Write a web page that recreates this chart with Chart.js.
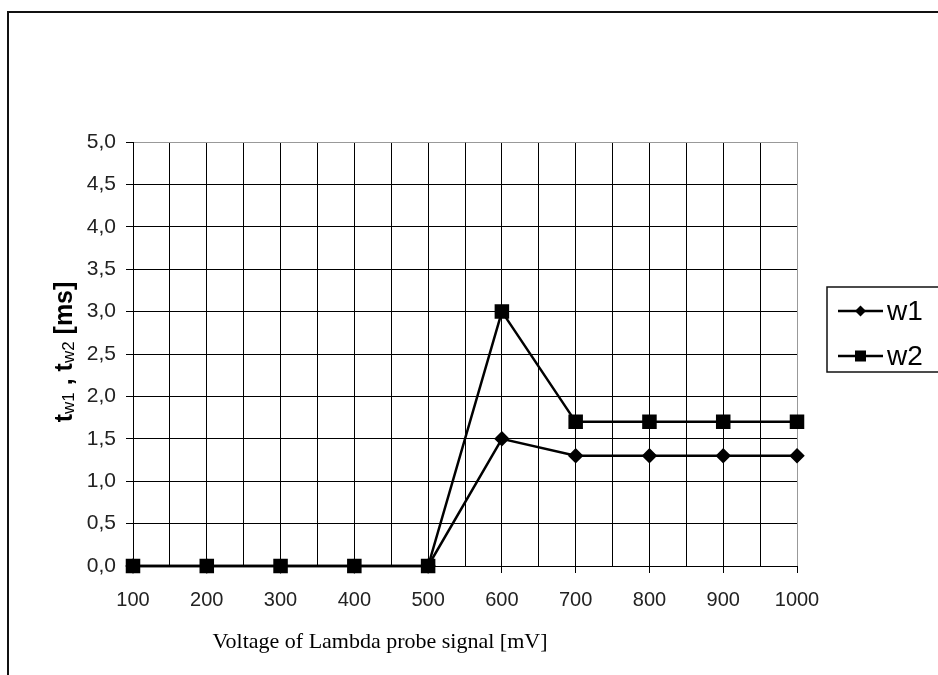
<!DOCTYPE html>
<html>
<head>
<meta charset="utf-8">
<script src="https://cdn.jsdelivr.net/npm/chart.js@4"></script>
<style>
html,body{margin:0;padding:0;background:#fff;}
#wrap{position:relative;width:938px;height:675px;}
</style>
</head>
<body>
<div id="wrap"><canvas id="c" width="938" height="675"></canvas></div>
<script>
const categories = [100, 200, 300, 400, 500, 600, 700, 800, 900, 1000];
const w1 = [0, 0, 0, 0, 0, 1.5, 1.3, 1.3, 1.3, 1.3];
const w2 = [0, 0, 0, 0, 0, 3.0, 1.7, 1.7, 1.7, 1.7];
const seriesNames = ['w1', 'w2'];
const xTitle = 'Voltage of Lambda probe signal [mV]';

const toPts = arr => categories.map((c, i) => ({x: c, y: arr[i]}));

const decor = {
  id: 'decor',
  afterDraw(chart) {
    const ctx = chart.ctx;
    ctx.save();
    // outer frame
    ctx.strokeStyle = '#111';
    ctx.lineWidth = 2;
    ctx.beginPath();
    ctx.moveTo(8, 675);
    ctx.lineTo(8, 12);
    ctx.lineTo(938, 12);
    ctx.stroke();

    // x title
    ctx.fillStyle = '#000';
    ctx.font = '22px "Liberation Serif", "Times New Roman", serif';
    ctx.textAlign = 'center';
    ctx.textBaseline = 'alphabetic';
    ctx.fillText(xTitle, 380, 648);

    // y title with subscripts (rotated)
    ctx.save();
    ctx.translate(64, 352);
    ctx.rotate(-Math.PI / 2);
    const parts = [
      {t: 't', f: 'bold 25px "Liberation Sans", Arial, sans-serif', dy: 0},
      {t: 'w1', f: '17px "Liberation Sans", Arial, sans-serif', dy: 2},
      {t: ' , ', f: 'bold 25px "Liberation Sans", Arial, sans-serif', dy: 0},
      {t: 't', f: 'bold 25px "Liberation Sans", Arial, sans-serif', dy: 0},
      {t: 'w2', f: '17px "Liberation Sans", Arial, sans-serif', dy: 2},
      {t: ' [ms]', f: 'bold 25px "Liberation Sans", Arial, sans-serif', dy: 0}
    ];
    let total = 0;
    parts.forEach(p => { ctx.font = p.f; p.w = ctx.measureText(p.t).width; total += p.w; });
    let x = -total / 2;
    ctx.textAlign = 'left';
    ctx.textBaseline = 'alphabetic';
    parts.forEach(p => { ctx.font = p.f; ctx.fillText(p.t, x, 8 + p.dy); x += p.w; });
    ctx.restore();

    // legend
    ctx.fillStyle = '#fff';
    ctx.fillRect(827, 287, 120, 85);
    ctx.strokeStyle = '#111';
    ctx.lineWidth = 1.5;
    ctx.strokeRect(827, 287, 130, 85);
    const rows = [311, 356];
    chart.data.datasets.forEach((ds, i) => {
      const y = rows[i];
      ctx.strokeStyle = '#000';
      ctx.lineWidth = 2.5;
      ctx.beginPath();
      ctx.moveTo(838, y);
      ctx.lineTo(883, y);
      ctx.stroke();
      ctx.fillStyle = '#000';
      if (ds.pointStyle === 'rect') {
        ctx.fillRect(855, y - 5.5, 11, 11);
      } else {
        ctx.beginPath();
        ctx.moveTo(860.5, y - 5.5);
        ctx.lineTo(866, y);
        ctx.lineTo(860.5, y + 5.5);
        ctx.lineTo(855, y);
        ctx.closePath();
        ctx.fill();
      }
      ctx.font = '28px "Liberation Sans", Arial, sans-serif';
      ctx.textAlign = 'left';
      ctx.textBaseline = 'middle';
      ctx.fillText(ds.label, 887, y + 1);
    });
    ctx.restore();
  }
};

new Chart(document.getElementById('c'), {
  type: 'line',
  data: {
    datasets: [
      {label: seriesNames[0], data: toPts(w1), borderColor: '#000', backgroundColor: '#000', borderWidth: 2.5,
       pointStyle: 'rectRot', pointRadius: 6, pointHoverRadius: 6, tension: 0, clip: false},
      {label: seriesNames[1], data: toPts(w2), borderColor: '#000', backgroundColor: '#000', borderWidth: 2.5,
       pointStyle: 'rect', pointRadius: 8.5, pointHoverRadius: 8.5, tension: 0, clip: false}
    ]
  },
  options: {
    responsive: false,
    animation: false,
    events: [],
    layout: {padding: {left: 0, top: 142, right: 141, bottom: 0}},
    plugins: {legend: {display: false}, tooltip: {enabled: false}},
    scales: {
      x: {
        type: 'linear',
        min: 100, max: 1000,
        afterFit: s => { s.height = 109; },
        border: {display: true, color: '#000', width: 1},
        grid: {
          color: c => (c.tick && c.tick.value === 1000) ? '#999' : '#000',
          lineWidth: 1,
          drawTicks: true,
          tickLength: 7,
          tickColor: c => (c.tick && c.tick.value % 100 === 0) ? '#000' : 'rgba(0,0,0,0)'
        },
        ticks: {
          stepSize: 50,
          autoSkip: false,
          maxRotation: 0,
          padding: 15,
          color: '#222',
          font: {family: '"Liberation Sans", Arial, sans-serif', size: 20},
          callback: v => (v % 100 === 0) ? String(v) : ''
        }
      },
      y: {
        min: 0, max: 5,
        afterFit: s => { s.width = 133; },
        border: {display: true, color: '#000', width: 1},
        grid: {
          color: c => (c.tick && c.tick.value === 5) ? '#999' : '#000',
          lineWidth: 1,
          drawTicks: true,
          tickLength: 7,
          tickColor: '#000'
        },
        ticks: {
          stepSize: 0.5,
          padding: 10,
          color: '#222',
          font: {family: '"Liberation Sans", Arial, sans-serif', size: 21},
          callback: v => v.toFixed(1).replace('.', ',')
        }
      }
    }
  },
  plugins: [decor]
});
</script>
</body>
</html>
